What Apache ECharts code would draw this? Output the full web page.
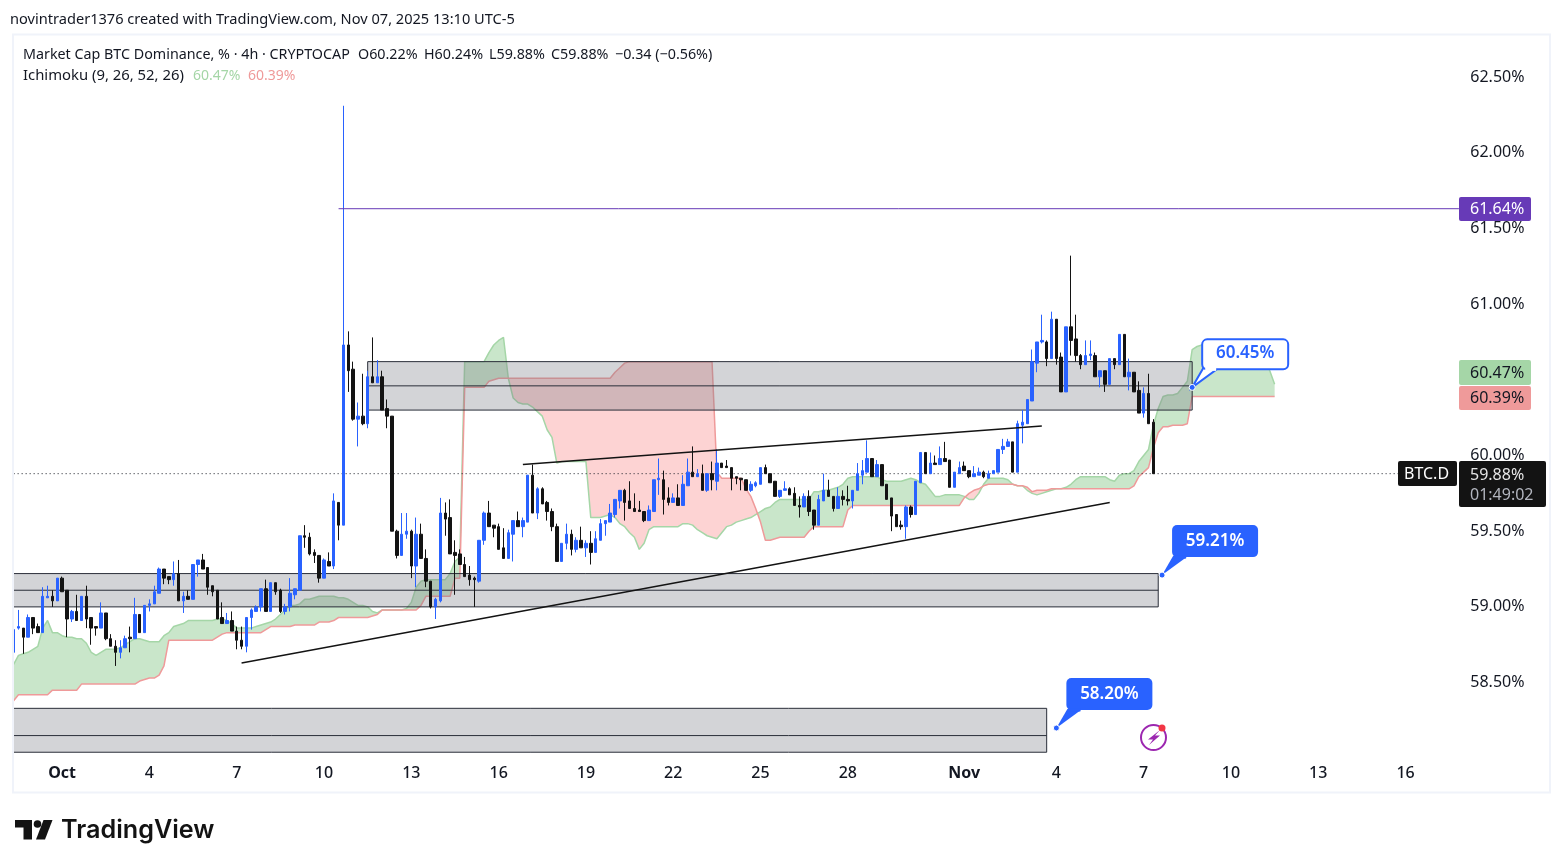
<!DOCTYPE html>
<html>
<head>
<meta charset="utf-8">
<title>BTC.D</title>
<script src="https://cdn.jsdelivr.net/npm/echarts@6/dist/echarts.min.js"></script>
<style>
	html, body { margin: 0; padding: 0; background: #fff; }
	#chart { width: 1563px; height: 868px; }
</style>
</head>
<body>
<div id="chart"></div>
<script>
const FONT = '"Noto Sans", sans-serif';
const BLUE = '#2962ff';
const BLACK = '#131313';
const TEXT = '#131722';

// 4h candles
const opens = [
	58.70,58.86,58.86,58.80,58.93,58.87,58.83,59.06,59.07,59.04,
	59.19,59.11,58.92,58.97,58.91,59.07,58.93,58.87,58.86,58.96,
	58.79,58.74,58.70,58.73,58.80,58.79,58.95,58.83,59.01,59.02,
	59.09,59.25,59.20,59.18,59.22,59.04,59.07,59.05,59.28,59.31,
	59.26,59.14,59.11,58.93,58.89,58.91,58.84,58.78,58.74,58.93,
	58.97,59.00,59.12,58.97,59.16,59.11,58.97,59.00,59.08,59.11,
	59.47,59.46,59.36,59.34,59.19,59.30,59.27,59.69,59.54,60.73,
	60.57,60.24,60.26,60.21,60.52,60.48,60.52,60.31,60.26,59.50,
	59.34,59.48,59.50,59.27,59.48,59.32,59.17,59.00,59.04,59.62,
	59.59,59.36,59.35,59.28,59.21,59.19,59.17,59.44,59.62,59.54,
	59.53,59.39,59.32,59.48,59.57,59.53,59.56,59.87,59.62,59.78,
	59.69,59.63,59.53,59.30,59.42,59.48,59.38,59.44,59.39,59.42,
	59.36,59.44,59.55,59.56,59.61,59.70,59.77,59.70,59.65,59.64,
	59.63,59.57,59.63,59.84,59.84,59.72,59.69,59.72,59.67,59.80,
	59.89,59.86,59.88,59.77,59.88,59.83,59.95,59.93,59.92,59.86,
	59.85,59.84,59.77,59.80,59.81,59.92,59.88,59.83,59.73,59.77,
	59.78,59.75,59.67,59.66,59.73,59.64,59.54,59.70,59.77,59.73,
	59.65,59.73,59.71,59.70,59.77,59.87,59.89,59.98,59.86,59.94,
	59.81,59.72,59.61,59.54,59.53,59.66,59.61,59.82,60.02,59.88,
	59.95,59.94,59.98,59.97,59.79,59.88,59.93,59.90,59.86,59.87,
	59.89,59.85,59.88,59.89,60.04,60.06,60.09,59.89,60.20,60.21,
	60.36,60.61,60.75,60.75,60.64,60.90,60.65,60.42,60.85,60.77,
	60.66,60.60,60.66,60.66,60.52,60.56,60.47,60.64,60.60,60.80,
	60.52,60.55,60.43,60.28,60.41,60.22
];
const highs = [
	58.87,58.98,58.86,58.95,58.93,58.89,59.13,59.14,59.11,59.19,
	59.20,59.11,58.98,59.08,59.07,59.14,58.93,58.87,59.03,58.96,
	58.82,58.78,58.78,58.81,58.87,59.06,58.95,59.01,59.05,59.14,
	59.26,59.25,59.20,59.30,59.31,59.10,59.11,59.28,59.31,59.35,
	59.26,59.14,59.11,59.03,58.96,58.97,58.87,58.87,58.93,58.99,
	59.01,59.12,59.18,59.16,59.16,59.12,59.02,59.19,59.12,59.47,
	59.54,59.49,59.38,59.34,59.32,59.36,59.75,59.69,62.31,60.82,
	60.62,60.35,60.54,60.56,60.78,60.63,60.56,60.37,60.26,59.51,
	59.62,59.62,59.51,59.59,59.55,59.38,59.17,59.06,59.72,59.69,
	59.71,59.44,59.38,59.33,59.27,59.20,59.44,59.63,59.70,59.54,
	59.55,59.52,59.51,59.57,59.63,59.59,59.87,59.94,59.79,59.79,
	59.70,59.65,59.55,59.42,59.55,59.51,59.46,59.53,59.44,59.50,
	59.50,59.58,59.57,59.68,59.71,59.77,59.78,59.83,59.75,59.70,
	59.63,59.67,59.84,59.98,59.90,59.79,59.75,59.81,59.87,59.98,
	60.06,59.91,59.94,59.88,59.96,60.04,59.95,59.97,59.92,59.86,
	59.85,59.84,59.83,59.83,59.92,59.94,59.88,59.83,59.77,59.83,
	59.79,59.79,59.73,59.75,59.77,59.64,59.74,59.88,59.84,59.73,
	59.79,59.77,59.80,59.77,59.95,59.97,60.10,59.98,59.97,59.94,
	59.81,59.72,59.61,59.57,59.67,59.67,59.83,60.02,60.02,60.02,
	60.00,60.06,60.09,59.97,59.89,59.96,59.96,59.90,59.93,59.92,
	59.90,59.90,59.90,60.04,60.11,60.11,60.09,60.23,60.30,60.37,
	60.70,60.75,60.93,60.76,60.95,60.90,60.68,60.85,61.32,60.93,
	60.67,60.76,60.76,60.68,60.56,60.56,60.64,60.64,60.80,60.80,
	60.64,60.55,60.49,60.45,60.54,60.24
];
const lows = [
	58.70,58.85,58.69,58.80,58.82,58.83,58.83,59.06,59.00,59.04,
	59.10,58.80,58.90,58.91,58.91,58.86,58.75,58.81,58.86,58.78,
	58.74,58.61,58.66,58.73,58.70,58.79,58.83,58.83,58.97,59.02,
	59.09,59.15,59.15,59.14,59.04,58.96,59.05,59.05,59.20,59.25,
	59.08,59.07,58.92,58.89,58.89,58.84,58.72,58.72,58.70,58.85,
	58.97,58.97,58.97,58.97,59.08,58.96,58.95,58.97,59.05,59.11,
	59.39,59.34,59.29,59.16,59.19,59.27,59.25,59.44,59.54,60.42,
	60.23,60.06,60.20,60.18,60.48,60.48,60.30,60.18,59.50,59.32,
	59.34,59.45,59.19,59.13,59.32,59.13,58.99,58.92,59.03,59.47,
	59.35,59.08,59.28,59.20,59.14,59.00,59.16,59.41,59.53,59.46,
	59.38,59.32,59.32,59.30,59.53,59.46,59.56,59.62,59.58,59.68,
	59.57,59.50,59.30,59.30,59.38,59.34,59.36,59.39,59.33,59.28,
	59.36,59.44,59.47,59.56,59.59,59.65,59.57,59.65,59.63,59.63,
	59.56,59.57,59.63,59.74,59.61,59.67,59.69,59.67,59.67,59.80,
	59.86,59.86,59.77,59.76,59.77,59.77,59.92,59.92,59.77,59.81,
	59.77,59.77,59.76,59.79,59.81,59.88,59.82,59.73,59.72,59.77,
	59.74,59.67,59.59,59.66,59.60,59.51,59.54,59.70,59.73,59.63,
	59.65,59.67,59.67,59.65,59.77,59.81,59.89,59.86,59.86,59.80,
	59.71,59.50,59.53,59.51,59.45,59.59,59.61,59.82,59.88,59.88,
	59.94,59.94,59.96,59.79,59.79,59.88,59.90,59.85,59.86,59.87,
	59.85,59.85,59.88,59.89,60.01,60.06,59.89,59.89,60.08,60.21,
	60.36,60.55,60.74,60.59,60.64,60.60,60.42,60.42,60.66,60.62,
	60.57,60.60,60.63,60.52,60.45,60.42,60.47,60.57,60.60,60.52,
	60.43,60.42,60.28,60.25,60.21,59.88
];
const closes = [
	58.85,58.87,58.80,58.93,58.86,58.83,59.07,59.07,59.04,59.19,
	59.10,58.92,58.97,58.91,59.07,58.92,58.86,58.86,58.96,58.79,
	58.74,58.70,58.73,58.79,58.79,58.95,58.83,59.01,59.02,59.10,
	59.25,59.19,59.18,59.22,59.04,59.07,59.05,59.28,59.31,59.25,
	59.13,59.10,58.92,58.89,58.91,58.84,58.78,58.74,58.93,58.98,
	59.00,59.12,58.97,59.16,59.10,58.97,59.00,59.09,59.12,59.47,
	59.46,59.35,59.34,59.19,59.31,59.27,59.70,59.54,60.73,60.56,
	60.24,60.26,60.21,60.52,60.48,60.52,60.30,60.26,59.50,59.34,
	59.48,59.50,59.27,59.48,59.32,59.17,59.00,59.05,59.62,59.58,
	59.35,59.34,59.28,59.20,59.18,59.18,59.44,59.62,59.53,59.52,
	59.38,59.32,59.49,59.57,59.53,59.57,59.87,59.62,59.78,59.68,
	59.63,59.53,59.30,59.42,59.48,59.38,59.44,59.39,59.42,59.36,
	59.45,59.55,59.57,59.62,59.71,59.77,59.69,59.65,59.63,59.63,
	59.57,59.64,59.84,59.85,59.71,59.69,59.72,59.67,59.81,59.89,
	59.86,59.88,59.77,59.88,59.84,59.95,59.92,59.92,59.85,59.85,
	59.84,59.77,59.81,59.82,59.92,59.88,59.82,59.73,59.77,59.78,
	59.74,59.67,59.66,59.73,59.63,59.54,59.71,59.77,59.73,59.65,
	59.73,59.71,59.70,59.77,59.88,59.90,59.98,59.86,59.94,59.80,
	59.71,59.60,59.53,59.53,59.66,59.61,59.83,60.02,59.88,59.95,
	59.94,59.98,59.96,59.79,59.89,59.92,59.90,59.86,59.88,59.89,
	59.86,59.88,59.90,60.04,60.06,60.09,59.89,60.21,60.22,60.37,
	60.62,60.75,60.76,60.64,60.90,60.64,60.42,60.85,60.76,60.66,
	60.60,60.66,60.67,60.52,60.56,60.47,60.64,60.60,60.80,60.52,
	60.55,60.42,60.28,60.41,60.21,59.88
];

// ichimoku leading spans, shifted 25 bars past the last candle
const spanA = [
	58.62,58.68,58.69,58.70,58.72,58.74,58.86,58.91,58.83,58.83,
	58.81,58.80,58.80,58.79,58.79,58.76,58.70,58.68,58.70,58.72,
	58.72,58.72,58.73,58.75,58.77,58.79,58.79,58.78,58.77,58.77,
	58.77,58.81,58.83,58.87,58.88,58.89,58.91,58.91,58.91,58.91,
	58.91,58.91,58.92,58.92,58.91,58.89,58.86,58.86,58.86,58.86,
	58.87,58.88,58.89,58.90,58.92,58.95,58.98,59.01,59.01,59.02,
	59.05,59.05,59.06,59.07,59.07,59.07,59.07,59.06,59.06,59.05,
	59.03,59.01,59.01,59.00,58.97,58.96,58.98,58.98,58.98,58.98,
	58.98,58.99,59.03,59.13,59.17,59.18,59.18,59.18,59.18,59.18,
	59.22,59.30,59.33,60.62,60.62,60.62,60.62,60.62,60.68,60.73,
	60.76,60.78,60.51,60.38,60.35,60.34,60.34,60.32,60.29,60.26,
	60.17,60.12,59.95,59.96,59.96,59.96,59.96,59.96,59.96,59.59,
	59.59,59.59,59.60,59.61,59.59,59.55,59.53,59.49,59.46,59.38,
	59.42,59.51,59.53,59.53,59.53,59.53,59.53,59.53,59.55,59.55,
	59.54,59.51,59.49,59.47,59.46,59.45,59.49,59.53,59.54,59.56,
	59.57,59.58,59.59,59.61,59.63,59.65,59.66,59.69,59.71,59.71,
	59.71,59.71,59.71,59.71,59.71,59.76,59.76,59.77,59.77,59.78,
	59.79,59.81,59.85,59.86,59.86,59.86,59.86,59.86,59.86,59.84,
	59.83,59.83,59.83,59.83,59.84,59.85,59.84,59.82,59.81,59.77,
	59.73,59.73,59.74,59.74,59.74,59.74,59.73,59.71,59.71,59.75,
	59.81,59.85,59.85,59.85,59.85,59.84,59.81,59.80,59.80,59.77,
	59.75,59.74,59.75,59.76,59.77,59.78,59.78,59.79,59.81,59.84,
	59.86,59.86,59.86,59.86,59.86,59.86,59.84,59.83,59.87,59.88,
	59.88,59.90,59.96,60.00,60.04,60.20,60.31,60.39,60.40,60.40,
	60.41,60.45,60.49,60.70,60.72,60.73,60.73,60.73,60.73,60.73,
	60.73,60.73,60.73,60.73,60.73,60.73,60.73,60.70,60.66,60.56,
	60.47
];
const spanB = [
	58.38,58.42,58.42,58.42,58.42,58.42,58.42,58.42,58.45,58.45,
	58.45,58.45,58.45,58.45,58.49,58.49,58.49,58.49,58.49,58.49,
	58.49,58.49,58.49,58.49,58.49,58.49,58.51,58.52,58.53,58.53,
	58.55,58.61,58.78,58.78,58.78,58.78,58.78,58.78,58.78,58.78,
	58.78,58.78,58.80,58.82,58.83,58.83,58.83,58.83,58.83,58.83,
	58.83,58.83,58.85,58.87,58.87,58.87,58.87,58.87,58.88,58.88,
	58.88,58.88,58.88,58.90,58.90,58.90,58.91,58.93,58.93,58.93,
	58.93,58.93,58.93,58.93,58.94,58.95,58.98,58.98,58.98,58.98,
	58.98,58.98,58.98,58.98,59.01,59.07,59.07,59.07,59.07,59.07,
	59.07,59.19,59.19,60.45,60.45,60.45,60.45,60.45,60.49,60.50,
	60.51,60.51,60.51,60.51,60.51,60.51,60.51,60.51,60.51,60.51,
	60.51,60.51,60.51,60.51,60.51,60.51,60.51,60.51,60.51,60.51,
	60.51,60.51,60.51,60.51,60.55,60.58,60.61,60.62,60.62,60.62,
	60.62,60.62,60.62,60.62,60.62,60.62,60.62,60.62,60.62,60.62,
	60.62,60.62,60.62,60.62,60.62,59.89,59.85,59.85,59.85,59.85,
	59.85,59.78,59.73,59.65,59.56,59.44,59.44,59.45,59.46,59.46,
	59.46,59.46,59.46,59.46,59.50,59.53,59.53,59.53,59.53,59.53,
	59.53,59.53,59.64,59.67,59.67,59.67,59.67,59.67,59.67,59.67,
	59.67,59.67,59.67,59.67,59.67,59.67,59.67,59.67,59.67,59.67,
	59.67,59.67,59.67,59.67,59.67,59.67,59.72,59.75,59.77,59.78,
	59.80,59.81,59.81,59.81,59.81,59.81,59.81,59.80,59.80,59.79,
	59.76,59.77,59.77,59.77,59.78,59.78,59.78,59.78,59.78,59.78,
	59.78,59.78,59.78,59.78,59.78,59.78,59.78,59.78,59.78,59.78,
	59.78,59.80,59.86,59.89,59.92,60.05,60.15,60.19,60.19,60.20,
	60.20,60.20,60.21,60.39,60.39,60.39,60.39,60.39,60.39,60.39,
	60.39,60.39,60.39,60.39,60.39,60.39,60.39,60.39,60.39,60.39,
	60.39
];

// x axis
const BAR_COUNT = 298;
const tickBars = [10, 28, 46, 64, 82, 100, 118, 136, 154, 172, 196, 215, 233, 251, 269, 287];
const tickNames = ['Oct', '4', '7', '10', '13', '16', '19', '22', '25', '28', 'Nov', '4', '7', '10', '13', '16'];

// drawn zones: first bar, last bar, top, middle, bottom
const zoneStart = [73, -2, -2];
const zoneEnd = [243, 236, 213];
const zoneTop = [60.62, 59.22, 58.33];
const zoneMid = [60.46, 59.11, 58.15];
const zoneBottom = [60.30, 59.00, 58.04];

// trend lines and the horizontal ray
const trendStart = [105, 47, 67];
const trendEnd = [212, 226, 298];
const trendFrom = [59.94, 58.63, 61.63];
const trendTo = [60.195, 59.69, 61.63];
const trendColor = ['#131313', '#131313', '#673ab7'];
const trendWidth = [1.5, 1.5, 1];

const lastPrice = 59.88;

// callouts
const calloutBars = [243, 237, 215];
const calloutPrices = [60.45, 59.21, 58.20];
const calloutNames = ['60.45%', '59.21%', '58.20%'];

const categories = [];
for (let i = 0; i < BAR_COUNT; i++) {
	let k = tickBars.indexOf(i);
	categories.push(k >= 0 ? tickNames[k] : '');
}

// cloud between the two spans, split where they cross
function renderCloud(params, api) {
	let children = [];
	let upper = [], lower = [], sign = 0;
	let flush = () => {
		if (upper.length > 1) {
			children.push({
				type: 'polygon',
				shape: { points: upper.concat(lower.slice().reverse()) },
				style: { fill: sign >= 0 ? 'rgba(165,214,167,0.6)' : 'rgba(250,128,128,0.35)' },
				silent: true
			});
		}
	};
	for (let i = 0; i < spanA.length; i++) {
		let a = api.coord([i, spanA[i]]);
		let b = api.coord([i, spanB[i]]);
		let s = spanA[i] - spanB[i];
		let cur = s > 0 ? 1 : (s < 0 ? -1 : sign);
		if (sign != 0 && cur != sign) {
			let prevA = upper[upper.length - 1];
			let prevB = lower[lower.length - 1];
			let d0 = prevA[1] - prevB[1], d1 = a[1] - b[1];
			let t = d0 / (d0 - d1);
			let cross = [prevA[0] + (a[0] - prevA[0]) * t, prevA[1] + (a[1] - prevA[1]) * t];
			upper.push(cross);
			lower.push(cross);
			flush();
			upper = [cross];
			lower = [cross];
		}
		sign = cur;
		upper.push(a);
		lower.push(b);
	}
	flush();
	return { type: 'group', children };
}

function renderZone(params, api) {
	let lt = api.coord([api.value(0), api.value(2)]);
	let rm = api.coord([api.value(1), api.value(3)]);
	let rb = api.coord([api.value(1), api.value(4)]);
	// keep clear of the frame on the left
	let pane = {
		x: params.coordSys.x + 2.3,
		y: params.coordSys.y,
		width: params.coordSys.width,
		height: params.coordSys.height
	};
	let box = echarts.graphic.clipRectByRect(
		{ x: lt[0], y: lt[1], width: rb[0] - lt[0], height: rb[1] - lt[1] },
		pane
	);
	let x0 = box.x, x1 = box.x + box.width, y0 = box.y, y1 = box.y + box.height;
	let stroke = { stroke: '#2a2e39', lineWidth: 1 };
	let children = [
		{ type: 'rect', shape: box, style: { fill: 'rgba(120,123,134,0.33)' } },
		{ type: 'line', shape: { x1: x0, y1: y0, x2: x1, y2: y0 }, style: stroke },
		{ type: 'line', shape: { x1: x0, y1: rm[1], x2: x1, y2: rm[1] }, style: stroke },
		{ type: 'line', shape: { x1: x0, y1: y1, x2: x1, y2: y1 }, style: stroke },
		{ type: 'line', shape: { x1: x1, y1: y0, x2: x1, y2: y1 }, style: stroke }
	];
	// the zones that run off the left edge have no left side
	if (api.value(0) >= 0) {
		children.push({ type: 'line', shape: { x1: x0, y1: y0, x2: x0, y2: y1 }, style: stroke });
	}
	return { type: 'group', silent: true, children };
}

function renderTrend(params, api) {
	let k = params.dataIndex;
	let p0 = api.coord([api.value(0), api.value(2)]);
	let p1 = api.coord([api.value(1), api.value(3)]);
	return {
		type: 'line',
		silent: true,
		shape: { x1: p0[0], y1: p0[1], x2: p1[0], y2: p1[1] },
		style: { stroke: trendColor[k], lineWidth: trendWidth[k] }
	};
}

function renderCallout(params, api) {
	let k = params.dataIndex;
	let p = api.coord([api.value(0), api.value(1)]);
	let filled = k > 0;
	let x = p[0] - (k == 1 ? 1 : 0), y = p[1];
	let fill = filled ? BLUE : '#fff';
	let children = [
		{
			type: 'polygon',
			shape: { points: [[x, y], [x + 11, y - 19], [x + 26, y - 19]] },
			style: { fill, stroke: BLUE, lineWidth: filled ? 0 : 2 }
		},
		{
			type: 'rect',
			shape: { x: x + 10, y: y - (filled ? 50 : 48), width: 86, height: filled ? 32 : 30, r: 5 },
			style: { fill, stroke: BLUE, lineWidth: filled ? 0 : 2 }
		},
		{
			type: 'line',
			shape: { x1: x + 13, y1: y - 18, x2: x + 24, y2: y - 18 },
			style: { stroke: fill, lineWidth: 3 }
		},
		{
			type: 'circle',
			shape: { cx: x, cy: y, r: 3 },
			style: { fill: BLUE, stroke: '#fff', lineWidth: 1 }
		},
		{
			type: 'text',
			style: {
				x: x + 53, y: y - (filled ? 33.5 : 34.5),
				text: calloutNames[k],
				fill: filled ? '#fff' : BLUE,
				font: '600 17px ' + FONT,
				align: 'center', verticalAlign: 'middle'
			}
		}
	];
	return { type: 'group', silent: true, children };
}

function label(x, y, text, color, size, weight) {
	return {
		type: 'text', z: 100, silent: true, x, y,
		style: {
			text,
			fill: color || TEXT,
			font: (weight || 400) + ' ' + (size || 14.3) + 'px ' + FONT,
			verticalAlign: 'middle'
		}
	};
}

function tag(x, y, w, h, color, r) {
	return {
		type: 'rect', z: 99, silent: true,
		shape: { x, y, width: w, height: h, r: r || 2 },
		style: { fill: color }
	};
}

const graphics = [
	// frame of the chart
	{ type: 'rect', z: 98, silent: true, shape: { x: 13, y: 34.5, width: 1537, height: 758 }, style: { fill: 'none', stroke: '#f0f3fa', lineWidth: 2 } },

	// header
	label(10, 20, 'novintrader1376 created with TradingView.com, Nov 07, 2025 13:10 UTC-5', TEXT, 14.6),
	label(23, 55, 'Market Cap BTC Dominance, % · 4h · CRYPTOCAP'),
	label(358, 55, 'O60.22%'),
	label(424, 55, 'H60.24%'),
	label(489, 55, 'L59.88%'),
	label(551, 55, 'C59.88%'),
	label(615, 55, '−0.34 (−0.56%)'),
	label(23, 76, 'Ichimoku (9, 26, 52, 26)', TEXT, 14.85),
	label(193, 76, '60.47%', '#a5d6a7', 14),
	label(248, 76, '60.39%', '#ef9a9a', 14),

	// price tags
	tag(1459, 197, 72, 24, '#673ab7'),
	label(1470, 209.5, '61.64%', '#fff', 16),
	tag(1459, 360, 72, 25, '#a5d6a7'),
	label(1470, 373.5, '60.47%', TEXT, 16),
	tag(1459, 386, 72, 24, '#ef9a9a'),
	label(1470, 398.5, '60.39%', TEXT, 16),
	tag(1398, 461, 59, 25, BLACK),
	label(1404, 474.5, 'BTC.D', '#fff', 16),
	tag(1459, 461, 87, 46, BLACK),
	label(1470, 475, '59.88%', '#e6e6e6', 16),
	label(1470, 495, '01:49:02', '#b2b5be', 16),

	// lightning badge
	{ type: 'circle', z: 99, silent: true, shape: { cx: 1153.5, cy: 737.5, r: 12.5 }, style: { fill: '#fff', stroke: '#9c27b0', lineWidth: 2 } },
	{ type: 'polygon', z: 100, silent: true, shape: { points: [[1160, 730], [1148, 739.5], [1153, 739.5], [1149, 745], [1160, 735.5], [1155, 735.5]] }, style: { fill: '#9c27b0' } },
	{ type: 'circle', z: 100, silent: true, shape: { cx: 1162, cy: 728, r: 3.5 }, style: { fill: '#f23645' } },

	// footer logo
	{ type: 'polygon', z: 100, silent: true, shape: { points: [[15, 820], [32, 820], [32, 839.5], [23.5, 839.5], [23.5, 827.5], [15, 827.5]] }, style: { fill: BLACK } },
	{ type: 'circle', z: 100, silent: true, shape: { cx: 37.5, cy: 824, r: 3.8 }, style: { fill: BLACK } },
	{ type: 'polygon', z: 100, silent: true, shape: { points: [[52.5, 820], [43.5, 820], [36, 839.5], [45, 839.5]] }, style: { fill: BLACK } },
	{ type: 'text', z: 100, silent: true, x: 61, y: 830, style: { text: 'TradingView', fill: BLACK, font: '600 25.2px Inter, ' + FONT, verticalAlign: 'middle' } }
];

const myChart = echarts.init(document.getElementById('chart'), null, { renderer: 'canvas' });

myChart.setOption({
	animation: false,
	backgroundColor: '#fff',
	textStyle: { fontFamily: FONT },
	grid: { left: 11.2, top: 1.3, width: 1445.3, height: 757, containLabel: false },
	xAxis: {
		type: 'category',
		data: categories,
		boundaryGap: true,
		axisLine: { show: false },
		axisTick: { show: false },
		splitLine: { show: false },
		axisLabel: {
			interval: (i, v) => v !== '',
			margin: 7,
			color: TEXT,
			fontSize: 16,
			fontWeight: 500,
			formatter: v => (v == 'Oct' || v == 'Nov') ? '{b|' + v + '}' : v,
			rich: { b: { fontWeight: 700, fontSize: 16, color: TEXT } }
		}
	},
	yAxis: {
		type: 'value',
		position: 'right',
		min: 58,
		max: 63,
		interval: 0.5,
		scale: true,
		axisLine: { show: false },
		axisTick: { show: false },
		splitLine: { show: false },
		axisLabel: {
			margin: 13.8,
			padding: [4, 0, 0, 0],
			color: TEXT,
			fontSize: 16,
			formatter: v => (v <= 58 || v >= 63) ? '' : v.toFixed(2) + '%'
		}
	},
	graphic: { z: 100, elements: graphics },
	series: [
		{
			name: 'cloud',
			type: 'custom',
			z: 1,
			silent: true,
			renderItem: renderCloud,
			data: [[0, spanA[0]]]
		},
		{
			name: 'Lead 1',
			type: 'line',
			z: 1,
			silent: true,
			showSymbol: false,
			lineStyle: { color: '#a5d6a7', width: 1.5 },
			data: spanA
		},
		{
			name: 'Lead 2',
			type: 'line',
			z: 1,
			silent: true,
			showSymbol: false,
			lineStyle: { color: '#ef9a9a', width: 1.5 },
			data: spanB
		},
		{
			name: 'zones',
			type: 'custom',
			z: 2,
			renderItem: renderZone,
			encode: { x: [0, 1], y: [2, 3, 4] },
			data: zoneStart.map((s, i) => [s, zoneEnd[i], zoneTop[i], zoneMid[i], zoneBottom[i]])
		},
		{
			name: 'last price',
			type: 'line',
			z: 3,
			silent: true,
			showSymbol: false,
			lineStyle: { color: TEXT, width: 1, type: [1, 3] },
			data: categories.map(() => lastPrice)
		},
		{
			name: 'BTC.D',
			type: 'candlestick',
			z: 5,
			barWidth: 3,
			itemStyle: {
				color: BLUE,
				color0: BLACK,
				borderColor: BLUE,
				borderColor0: BLACK,
				borderWidth: 1
			},
			data: opens.map((o, i) => [o, closes[i], lows[i], highs[i]])
		},
		{
			name: 'trend',
			type: 'custom',
			z: 6,
			renderItem: renderTrend,
			encode: { x: [0, 1], y: [2, 3] },
			data: trendStart.map((s, i) => [s, trendEnd[i], trendFrom[i], trendTo[i]])
		},
		{
			name: 'callouts',
			type: 'custom',
			z: 7,
			renderItem: renderCallout,
			encode: { x: 0, y: 1 },
			data: calloutBars.map((b, i) => [b, calloutPrices[i]])
		}
	]
});
</script>
</body>
</html>
